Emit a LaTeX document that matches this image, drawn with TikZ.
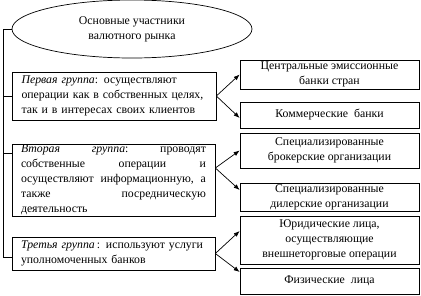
\documentclass[tikz,border=0pt]{standalone}
\usepackage{fontspec}
\setmainfont{Liberation Serif}
\usetikzlibrary{shapes.geometric,arrows.meta}
\begin{document}
\begin{tikzpicture}[x=1pt,y=-1pt,
  every node/.style={font=\fontsize{11.8}{15}\selectfont},
  box/.style={draw, line width=0.7pt, inner sep=0pt},
  lbox/.style={box, align=left, text width=185pt},
  rbox/.style={box, align=center, minimum width=179pt},
  con/.style={line width=0.7pt},
  arr/.style={con, -{Latex[length=6pt,width=4.5pt]}}]
\useasboundingbox (0,0) rectangle (421,295);

\node[draw, line width=0.7pt, ellipse, minimum width=240pt, minimum height=58pt, inner sep=0pt, align=center]
  (ell) at (132,29) {Основные участники\\валютного рынка};

\node[lbox, minimum width=204pt, minimum height=48pt] (b1) at (114,96)
  {\textit{Первая группа}: осуществляют\\операции как в собственных целях,\\так и в интересах своих клиентов};
\node[lbox, minimum width=203pt, minimum height=72pt] (b2) at (113.5,180)
  {\makebox[185pt][l]{\textit{Вторая}\hfill\textit{группа}:\hfill проводят}\\
   \makebox[185pt][l]{собственные\hfill операции\hfill и}\\
   \makebox[185pt][l]{осуществляют\hfill информационную,\hfill а}\\
   \makebox[185pt][l]{также\hfill посредническую}\\
   деятельность};
\node[lbox, minimum width=203pt, minimum height=33pt] (b3) at (113.5,253.5)
  {\textit{Третья группа\,}: используют услуги\\уполномоченных банков};

\node[rbox, minimum height=29pt] (ra) at (329.5,74.5) {Центральные эмиссионные\\банки стран};
\node[rbox, minimum height=26pt] (rb) at (329.5,115) {Коммерческие\ \ банки};
\node[rbox, minimum height=35pt] (rc) at (329.5,150.5) {Специализированные\\брокерские организации};
\node[rbox, minimum height=28pt] (rd) at (329.5,197) {Специализированные\\дилерские организации};
\node[rbox, minimum height=48pt] (re) at (329.5,240) {Юридические лица,\\осуществляющие\\внешнеторговые операции};
\node[rbox, minimum height=26pt] (rf) at (329.5,281) {Физические\ \ лица};

\coordinate (bt) at (3,29);
\coordinate (bb) at (3,257);
\draw[con] (ell.west) -- (bt) -- (bb) -- (bb -| b3.west);
\draw[con] (bt |- b1.west) -- (b1.west);
\draw[con] ([yshift=27pt]b2.west) -- ++(-9,0);

\draw[arr] (b1.east) -- (ra.west);
\draw[arr] (b1.east) -- ([yshift=-3pt]rb.west);
\draw[arr] ([yshift=12pt]b2.east) -- (rc.west);
\draw[arr] ([yshift=12pt]b2.east) -- ([yshift=7pt]rd.west);
\draw[arr] (b3.east) -- ([yshift=9pt]re.west);
\draw[arr] (b3.east) -- ([yshift=9pt]rf.west);
\end{tikzpicture}
\end{document}
